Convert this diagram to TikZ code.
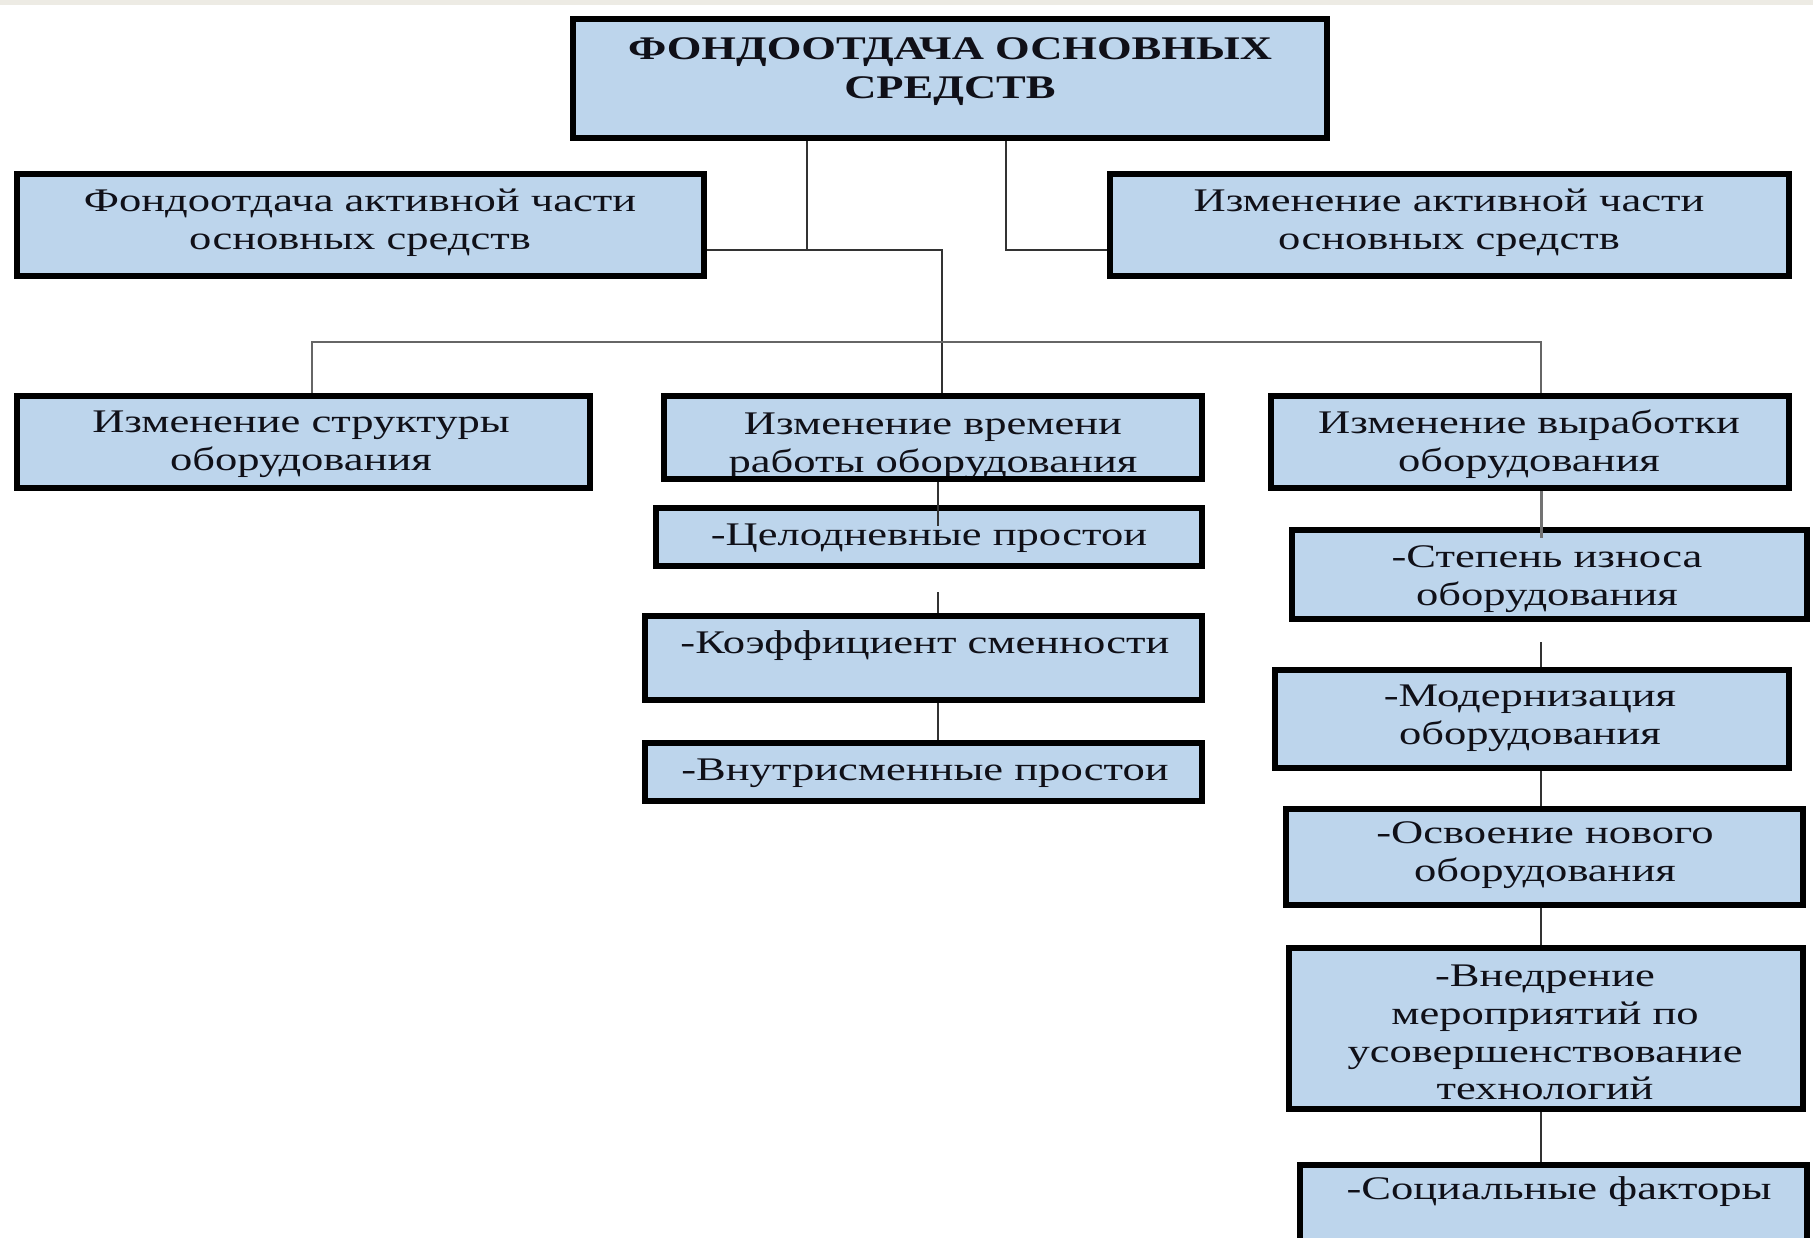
\documentclass[tikz,border=0pt]{standalone}
\usepackage{fontspec}
\setmainfont{Liberation Serif}
\newfontfamily\wide[FakeStretch=1.35]{Liberation Serif}
\definecolor{boxblue}{HTML}{BDD5EC}
\definecolor{textc}{HTML}{101018}
\definecolor{topstrip}{HTML}{EDEBE4}
\begin{document}
\begin{tikzpicture}[x=1pt,y=-1pt,
  box/.style={draw=black, line width=6pt, fill=boxblue, inner sep=0pt},
  txt/.style={font=\wide\fontsize{33}{38}\selectfont, align=center, inner sep=0pt, text=textc},
  conn/.style={draw=black!80, line width=2pt}]
\clip (0,0) rectangle (1813,1238);
\fill[white] (0,0) rectangle (1813,1238);
\fill[topstrip] (0,0) rectangle (1813,5);

% boxes
\node[box, minimum width=754, minimum height=119] (top) at (950,78.5) {};
\node[box, minimum width=687, minimum height=102] (L1) at (360.5,225) {};
\node[box, minimum width=679, minimum height=102] (R1) at (1449.5,225) {};
\node[box, minimum width=573, minimum height=92] (struct) at (303.5,442) {};
\node[box, minimum width=538, minimum height=83] (time) at (933,437.5) {};
\node[box, minimum width=518, minimum height=92] (vyrab) at (1530,442) {};
\node[box, minimum width=546, minimum height=58] (celo) at (929,537) {};
\node[box, minimum width=557, minimum height=84] (koef) at (923.5,658) {};
\node[box, minimum width=557, minimum height=58] (vnutr) at (923.5,772) {};
\node[box, minimum width=515, minimum height=89] (stepen) at (1549.5,574.5) {};
\node[box, minimum width=514, minimum height=98] (modern) at (1532,719) {};
\node[box, minimum width=517, minimum height=96] (osvoen) at (1544.5,857) {};
\node[box, minimum width=514, minimum height=161] (vnedr) at (1546,1028.5) {};
\node[box, minimum width=507, minimum height=86] (soc) at (1553.5,1208) {};

% texts
\node[txt, font=\wide\bfseries\fontsize{33}{39}\selectfont] (topt) at (950,71.5) {ФОНДООТДАЧА ОСНОВНЫХ\\СРЕДСТВ};
\node[txt] (L1t) at (360,222.5) {Фондоотдача активной части\\основных средств};
\node[txt] (R1t) at (1449,222.5) {Изменение активной части\\основных средств};
\node[txt] (structt) at (301,444.5) {Изменение структуры\\оборудования};
\node[txt] (timet) at (933,446) {Изменение времени\\работы оборудования};
\node[txt] (vyrabt) at (1529,444.5) {Изменение выработки\\оборудования};
\node[txt] (celot) at (929,538) {-Целодневные простои};
\node[txt] (koeft) at (925,646) {-Коэффициент сменности};
\node[txt] (vnutrt) at (925,773) {-Внутрисменные простои};
\node[txt] (stepent) at (1547,579) {-Степень износа\\оборудования};
\node[txt] (modernt) at (1530,718) {-Модернизация\\оборудования};
\node[txt] (osvoent) at (1545,855) {-Освоение нового\\оборудования};
\node[txt, font=\wide\fontsize{33}{37.7}\selectfont] (vnedrt) at (1545,1032.5) {-Внедрение\\мероприятий по\\усовершенствование\\технологий};
\node[txt] (soct) at (1559,1192) {-Социальные факторы};

% the time box's bottom edge cuts off its second line of text
\fill[white] (time.south west) rectangle ([yshift=-14pt]time.south east);
\draw[line width=6pt, black] ([yshift=3pt]time.south west) -- ([yshift=3pt]time.south east);

% connectors
\coordinate (jL) at (807,250);
\coordinate (jM) at (942,250);
\coordinate (jR) at (1006,250);
\draw[conn] (jL |- top.south) -- (jL) -- (L1.east |- jL);
\draw[conn] (jL) -- (jM) -- (jM |- time.north);
\draw[conn] (jR |- top.south) -- (jR) -- (R1.west |- jR);
\coordinate (hL) at (312,342);
\coordinate (hR) at (1541,342);
\draw[conn, draw=black!60, line width=2.6pt] (hL |- struct.north) -- (hL) -- (hR) -- (hR |- vyrab.north);

\coordinate (c1) at (938,526);
\coordinate (c2) at (938,592);
\draw[conn] (c1 |- time.south) -- (c1);
\draw[conn] (c2) -- (c2 |- koef.north);
\draw[conn] (c2 |- koef.south) -- (c2 |- vnutr.north);

\coordinate (r1) at (1541,538);
\coordinate (r2) at (1541,642);
\draw[conn, draw=black!55, line width=3pt] (r1 |- vyrab.south) -- (r1);
\draw[conn] (r2) -- (r2 |- modern.north);
\draw[conn] (r2 |- modern.south) -- (r2 |- osvoen.north);
\draw[conn] (r2 |- osvoen.south) -- (r2 |- vnedr.north);
\draw[conn] (r2 |- vnedr.south) -- (r2 |- soc.north);
\end{tikzpicture}
\end{document}
